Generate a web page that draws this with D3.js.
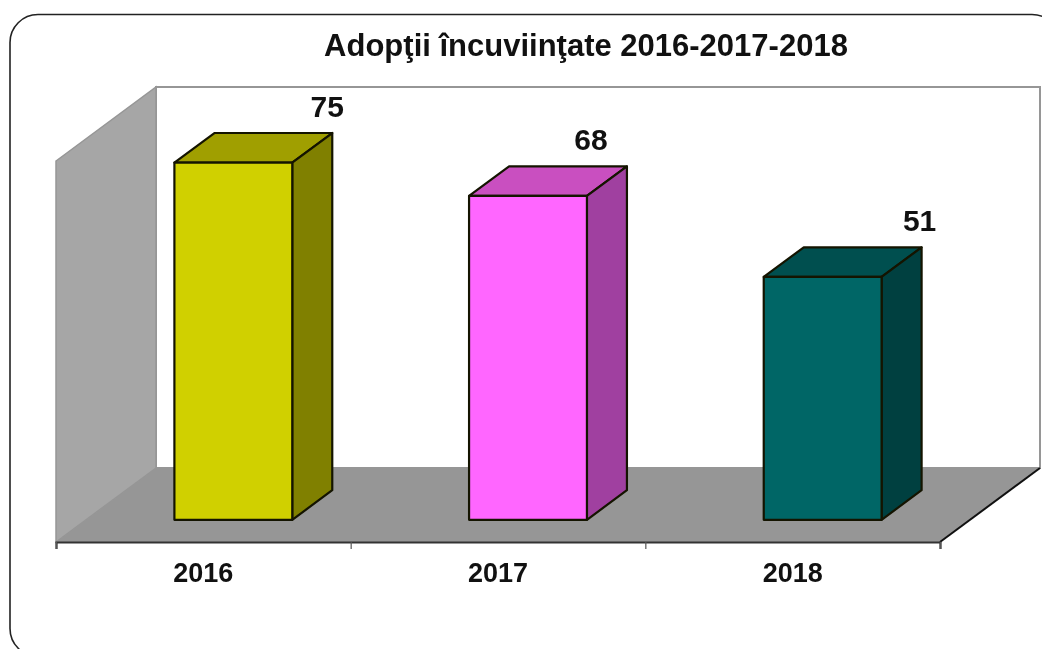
<!DOCTYPE html>
<html><head><meta charset="utf-8">
<script src="https://cdn.jsdelivr.net/npm/d3@7/dist/d3.min.js"></script>
<style>html,body{margin:0;padding:0;background:#fff;overflow:hidden}svg{display:block;filter:blur(0.45px)}
text{font-family:"Liberation Sans",Arial,sans-serif;font-weight:bold;fill:#111}</style>
</head><body><svg id="c" width="1042" height="649"></svg>
<script>
const titleText = "Adopţii încuviinţate 2016-2017-2018";
const categories = ["2016","2017","2018"];
const values = [75,68,51];
const frontColors = ["#d0d000","#ff66ff","#006666"];
const topColors = ["#a09f00","#c94fc0","#004f4f"];
const sideColors = ["#808000","#a040a0","#004040"];

const svg = d3.select("#c");
const x0 = 56, x1 = 940, yBase = 542, yTop = 161;
const dx = 100, dy = -74;         // chart depth
const barD = 0.4;                 // bar depth as a share of chart depth
const barStart = 0.3;             // gap in front of the bar
const labelShift = [-5,-36,-2];   // hand-placed data labels, relative to the bar's rear corner
const x = d3.scaleBand().domain(categories).range([x0,x1]).paddingInner(0.6).paddingOuter(0.3);
const band = d3.scaleBand().domain(categories).range([x0,x1]);
const edges = d3.scaleLinear().domain([0,3]).range([x0,x1]);
const y = d3.scaleLinear().domain([0,80]).range([yBase,yTop]);
const poly = pts => d3.line()(pts);

// card
svg.append("rect").attr("x",10).attr("y",14.5).attr("width",1050).attr("height",642).attr("rx",28)
  .attr("fill","#fff").attr("stroke","#222").attr("stroke-width",1.6);

// back wall
svg.append("path").attr("d",poly([[x0+dx,yTop+dy],[x1+dx,yTop+dy],[x1+dx,yBase+dy],[x0+dx,yBase+dy]])+"Z")
  .attr("fill","#fff").attr("stroke","#969696").attr("stroke-width",2);
// left wall
svg.append("path").attr("d",poly([[x0,yTop],[x0+dx,yTop+dy],[x0+dx,yBase+dy],[x0,yBase]])+"Z")
  .attr("fill","#a6a6a6").attr("stroke","#969696").attr("stroke-width",1.5);
// floor
svg.append("path").attr("d",poly([[x0,yBase],[x0+dx,yBase+dy],[x1+dx,yBase+dy],[x1,yBase]])+"Z")
  .attr("fill","#969696").attr("stroke","none");
svg.append("path").attr("d",poly([[x1,yBase],[x1+dx,yBase+dy]])).attr("stroke","#111").attr("stroke-width",2).attr("fill","none");

// bars
const ox = dx*barStart, oy = dy*barStart;
const bx = dx*barD, by = dy*barD;
const g = svg.selectAll("g.bar").data(categories).join("g").attr("class","bar")
  .attr("stroke","#141400").attr("stroke-width",2.2).attr("stroke-linejoin","round");
g.each(function(c,i){
  const s = d3.select(this);
  const l = x(c)+ox, r = l+x.bandwidth(), t = y(values[i])+oy, b = y(0)+oy;
  s.append("path").attr("d",poly([[l,t],[l+bx,t+by],[r+bx,t+by],[r,t]])+"Z").attr("fill",topColors[i]);
  s.append("path").attr("d",poly([[r,t],[r+bx,t+by],[r+bx,b+by],[r,b]])+"Z").attr("fill",sideColors[i]);
  s.append("path").attr("d",poly([[l,t],[r,t],[r,b],[l,b]])+"Z").attr("fill",frontColors[i]);
});

// value labels
svg.selectAll("text.val").data(categories).join("text").attr("class","val")
  .attr("x",(c,i)=>x(c)+ox+x.bandwidth()+bx+labelShift[i])
  .attr("y",(c,i)=>y(values[i])+oy+by-16)
  .attr("text-anchor","middle").attr("font-size",30)
  .text((c,i)=>values[i]);

// axis: band-edge ticks
const axEdges = d3.axisBottom(edges).tickValues([0,1,2,3]).tickSize(7).tickFormat("");
const ga = svg.append("g").attr("transform",`translate(0,${yBase})`).call(axEdges);
ga.select(".domain").attr("stroke","#333").attr("stroke-width",2.2);
ga.selectAll(".tick line").attr("stroke","#555").attr("stroke-width",1.2);
// axis: category labels
const axCat = d3.axisBottom(band).tickSize(0).tickPadding(21);
const gc = svg.append("g").attr("transform",`translate(0,${yBase})`).call(axCat);
gc.select(".domain").remove();
gc.selectAll("text").attr("font-size",27).attr("font-family",'"Liberation Sans",Arial,sans-serif').attr("fill","#111");

// title
svg.append("text").attr("x",586).attr("y",56).attr("text-anchor","middle").attr("font-size",31).text(titleText);
</script></body></html>
